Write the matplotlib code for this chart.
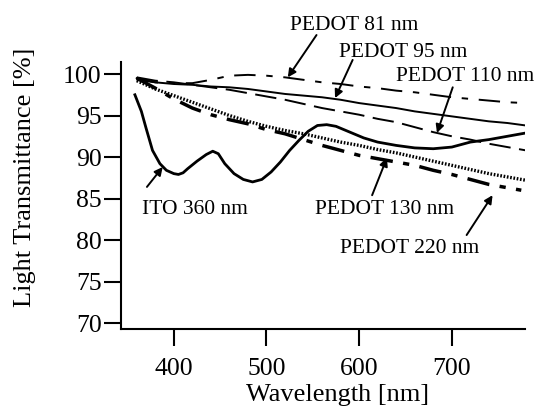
import matplotlib
matplotlib.use('Agg')
import matplotlib.pyplot as plt
import numpy as np

plt.rcParams['font.family'] = ['Liberation Serif', 'DejaVu Serif']

# wavelength grid for the PEDOT films [nm]
wl = [360, 380, 400, 420, 440, 460, 480, 500, 520, 540, 560, 580,
      600, 620, 640, 660, 680, 700, 720, 740, 760, 780]
pedot_81 = [99.3, 99.0, 98.9, 98.9, 99.3, 99.8, 99.9, 99.8, 99.6, 99.3, 99.0, 98.8,
            98.5, 98.3, 98.0, 97.8, 97.5, 97.2, 97.0, 96.8, 96.6, 96.5]
pedot_95 = [99.5, 99.0, 98.8, 98.7, 98.5, 98.4, 98.2, 97.9, 97.6, 97.4, 97.2, 96.9,
            96.5, 96.2, 95.9, 95.5, 95.2, 94.9, 94.6, 94.3, 94.1, 93.8]
pedot_110 = [99.6, 99.2, 99.0, 98.7, 98.4, 98.1, 97.7, 97.3, 96.9, 96.4, 95.9, 95.5,
             95.1, 94.6, 94.2, 93.6, 93.0, 92.5, 92.1, 91.6, 91.2, 90.8]
pedot_130 = [99.2, 98.2, 97.4, 96.6, 95.8, 95.0, 94.3, 93.7, 93.2, 92.8, 92.3, 91.8,
             91.4, 90.9, 90.5, 90.0, 89.5, 89.0, 88.5, 88.0, 87.6, 87.2]
wl_220 = [360, 380, 400, 420, 440, 460, 480, 500, 520, 540, 560, 580,
          600, 620, 640, 660, 680, 700, 720, 740, 760, 775]
pedot_220 = [99.5, 98.3, 97.0, 95.9, 95.1, 94.5, 94.0, 93.3, 92.8, 92.1, 91.4, 90.8,
             90.2, 89.8, 89.4, 89.0, 88.4, 87.9, 87.3, 86.7, 86.3, 86.0]

# ITO reference
wl_ito = [358, 365, 370, 377, 385, 392, 400, 405, 410, 415, 425, 435, 442, 448, 455,
          465, 475, 485, 495, 505, 515, 525, 535, 545, 555, 565, 575, 590, 605, 620,
          640, 660, 680, 700, 720, 740, 760, 780]
ito = [97.5, 95.5, 93.5, 90.8, 89.2, 88.4, 88.0, 87.9, 88.1, 88.6, 89.5, 90.3, 90.7,
       90.4, 89.2, 88.0, 87.3, 87.0, 87.3, 88.2, 89.4, 90.8, 92.0, 93.1, 93.8, 93.9,
       93.7, 93.0, 92.3, 91.8, 91.4, 91.1, 91.0, 91.2, 91.8, 92.1, 92.5, 92.9]

# label text, text position, arrow start, arrow tip
labels = ['PEDOT 81 nm', 'PEDOT 95 nm', 'PEDOT 110 nm', 'ITO 360 nm',
          'PEDOT 130 nm', 'PEDOT 220 nm']
text_xy = [(595, 105.9), (648, 102.65), (714, 99.76), (423, 83.7),
           (627, 83.7), (655, 79.0)]
start_xy = [(554, 104.7), (593, 101.7), (701, 98.4), (371, 86.4),
            (614, 85.4), (716, 80.6)]
tip_xy = [(523, 99.6), (574, 97.1), (684, 92.9), (388, 88.8),
          (630, 89.9), (744, 85.4)]

fig = plt.figure(figsize=(5.36, 4.16), dpi=100)
ax = fig.add_axes([121 / 536, 1 - 329 / 416, 404 / 536, 267 / 416])

ax.plot(wl, pedot_81, color='black', lw=1.4, ls=(0, (11, 5.5, 3.3, 5.5)))
ax.plot(wl, pedot_95, color='black', lw=1.4)
ax.plot(wl, pedot_110, color='black', lw=1.4, ls=(0, (11, 4.4)))
ax.plot(wl_ito, ito, color='black', lw=2.0)
ax.plot(wl, pedot_130, color='black', lw=2.4, ls=(0, (0.5, 0.5)))
ax.plot(wl_220, pedot_220, color='black', lw=2.5, ls=(0, (6.5, 3.0, 1.8, 3.0)))

for lab, txy, sxy, pxy in zip(labels, text_xy, start_xy, tip_xy):
    ax.text(txy[0], txy[1], lab, fontsize=15.5, ha='center', va='center',
            clip_on=False)
    ax.annotate('', xy=pxy, xytext=sxy,
                arrowprops=dict(arrowstyle='-|>', color='black', lw=1.4,
                                mutation_scale=12, shrinkA=0, shrinkB=0),
                annotation_clip=False)

ax.set_xlim(343, 779)
ax.set_ylim(69.28, 101.45)
ax.set_xticks([400, 500, 600, 700])
ax.set_yticks([70, 75, 80, 85, 90, 95, 100])
ax.spines['top'].set_visible(False)
ax.spines['right'].set_visible(False)
ax.spines['left'].set_linewidth(1.5)
ax.spines['bottom'].set_linewidth(1.5)
ax.tick_params(direction='out', length=12, width=1.5, labelsize=18.5)
ax.tick_params(axis='x', pad=9)
ax.tick_params(axis='y', pad=2)
ax.set_xlabel('Wavelength [nm]', fontsize=19)
ax.set_ylabel('Light Transmittance [%]', fontsize=19)
ax.xaxis.set_label_coords(0.535, -0.205)
ax.yaxis.set_label_coords(-0.238, 0.569)
ax.yaxis.label.set_va('center')

fig.savefig('out.png', dpi=100)
